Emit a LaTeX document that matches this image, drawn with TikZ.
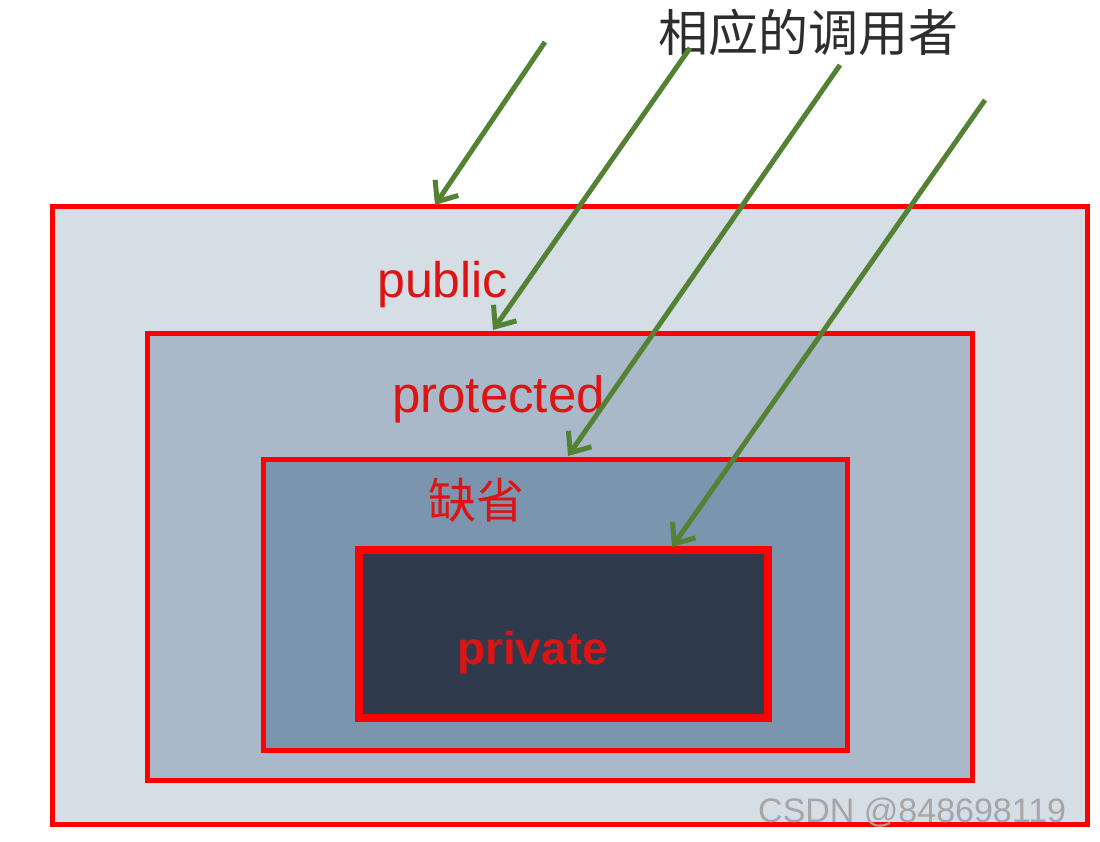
\documentclass[tikz,border=0pt]{standalone}
\usepackage{fontspec}
\setmainfont{Liberation Sans}
\newfontfamily\cjk{Noto Sans CJK SC}
\usetikzlibrary{arrows.meta}
\definecolor{lvA}{RGB}{213,221,229}
\definecolor{lvB}{RGB}{170,185,202}
\definecolor{lvC}{RGB}{124,149,175}
\definecolor{lvD}{RGB}{47,59,76}
\definecolor{arrowgreen}{RGB}{84,130,53}
\definecolor{labelred}{RGB}{220,20,20}
\definecolor{titlegray}{RGB}{45,45,45}
\begin{document}
\begin{tikzpicture}[x=1pt,y=-1pt,
  levelbox/.style={draw=red, line width=5pt, inner sep=0pt, outer sep=0pt, anchor=north west},
  caller/.style={draw=arrowgreen, line width=5pt, -{Straight Barb[length=17pt,width=28pt,line width=5pt]}},
  lbl/.style={text=labelred, inner sep=0pt, font=\fontsize{50}{60}\selectfont},
]
\useasboundingbox[fill=white] (0,0) rectangle (1100,842);
\node[levelbox, fill=lvA, minimum width=1035pt, minimum height=617pt] (outer) at (52,207) {};
\node[levelbox, fill=lvB, minimum width=825pt, minimum height=447pt] (prot) at (147,333) {};
\node[levelbox, fill=lvC, minimum width=584pt, minimum height=291pt] (deflt) at (263,459) {};
\node[levelbox, fill=lvD, line width=8pt, minimum width=409pt, minimum height=168pt] (priv) at (359,550) {};

\node[lbl, anchor=base west] (tpub) at (377,298) {public};
\node[lbl, anchor=base west, font=\fontsize{51}{60}\selectfont] (tprot) at (392,412) {protected};
\node[lbl, anchor=center, font=\cjk\fontsize{48}{56}\selectfont] (tdef) at (476,500) {缺省};
\node[lbl, anchor=base west, font=\bfseries\fontsize{46}{56}\selectfont] (tpriv) at (457,664) {private};

\node[inner sep=0pt, text=titlegray, font=\cjk\fontsize{50}{60}\selectfont] (title) at (808,32) {相应的调用者};

\coordinate (s1) at (545,42);
\coordinate (e1) at (435,205);
\coordinate (s2) at (690,48);
\coordinate (e2) at (493,330);
\coordinate (s3) at (840,65);
\coordinate (e3) at (568,456);
\coordinate (s4) at (985,100);
\coordinate (e4) at (672,547);
\draw[caller] (s1) -- (e1);
\draw[caller] (s2) -- (e2);
\draw[caller] (s3) -- (e3);
\draw[caller] (s4) -- (e4);

\node[inner sep=0pt, anchor=base west, text=gray!70, font=\fontsize{34}{40}\selectfont] (wm) at (758,822) {CSDN @848698119};
\end{tikzpicture}
\end{document}
